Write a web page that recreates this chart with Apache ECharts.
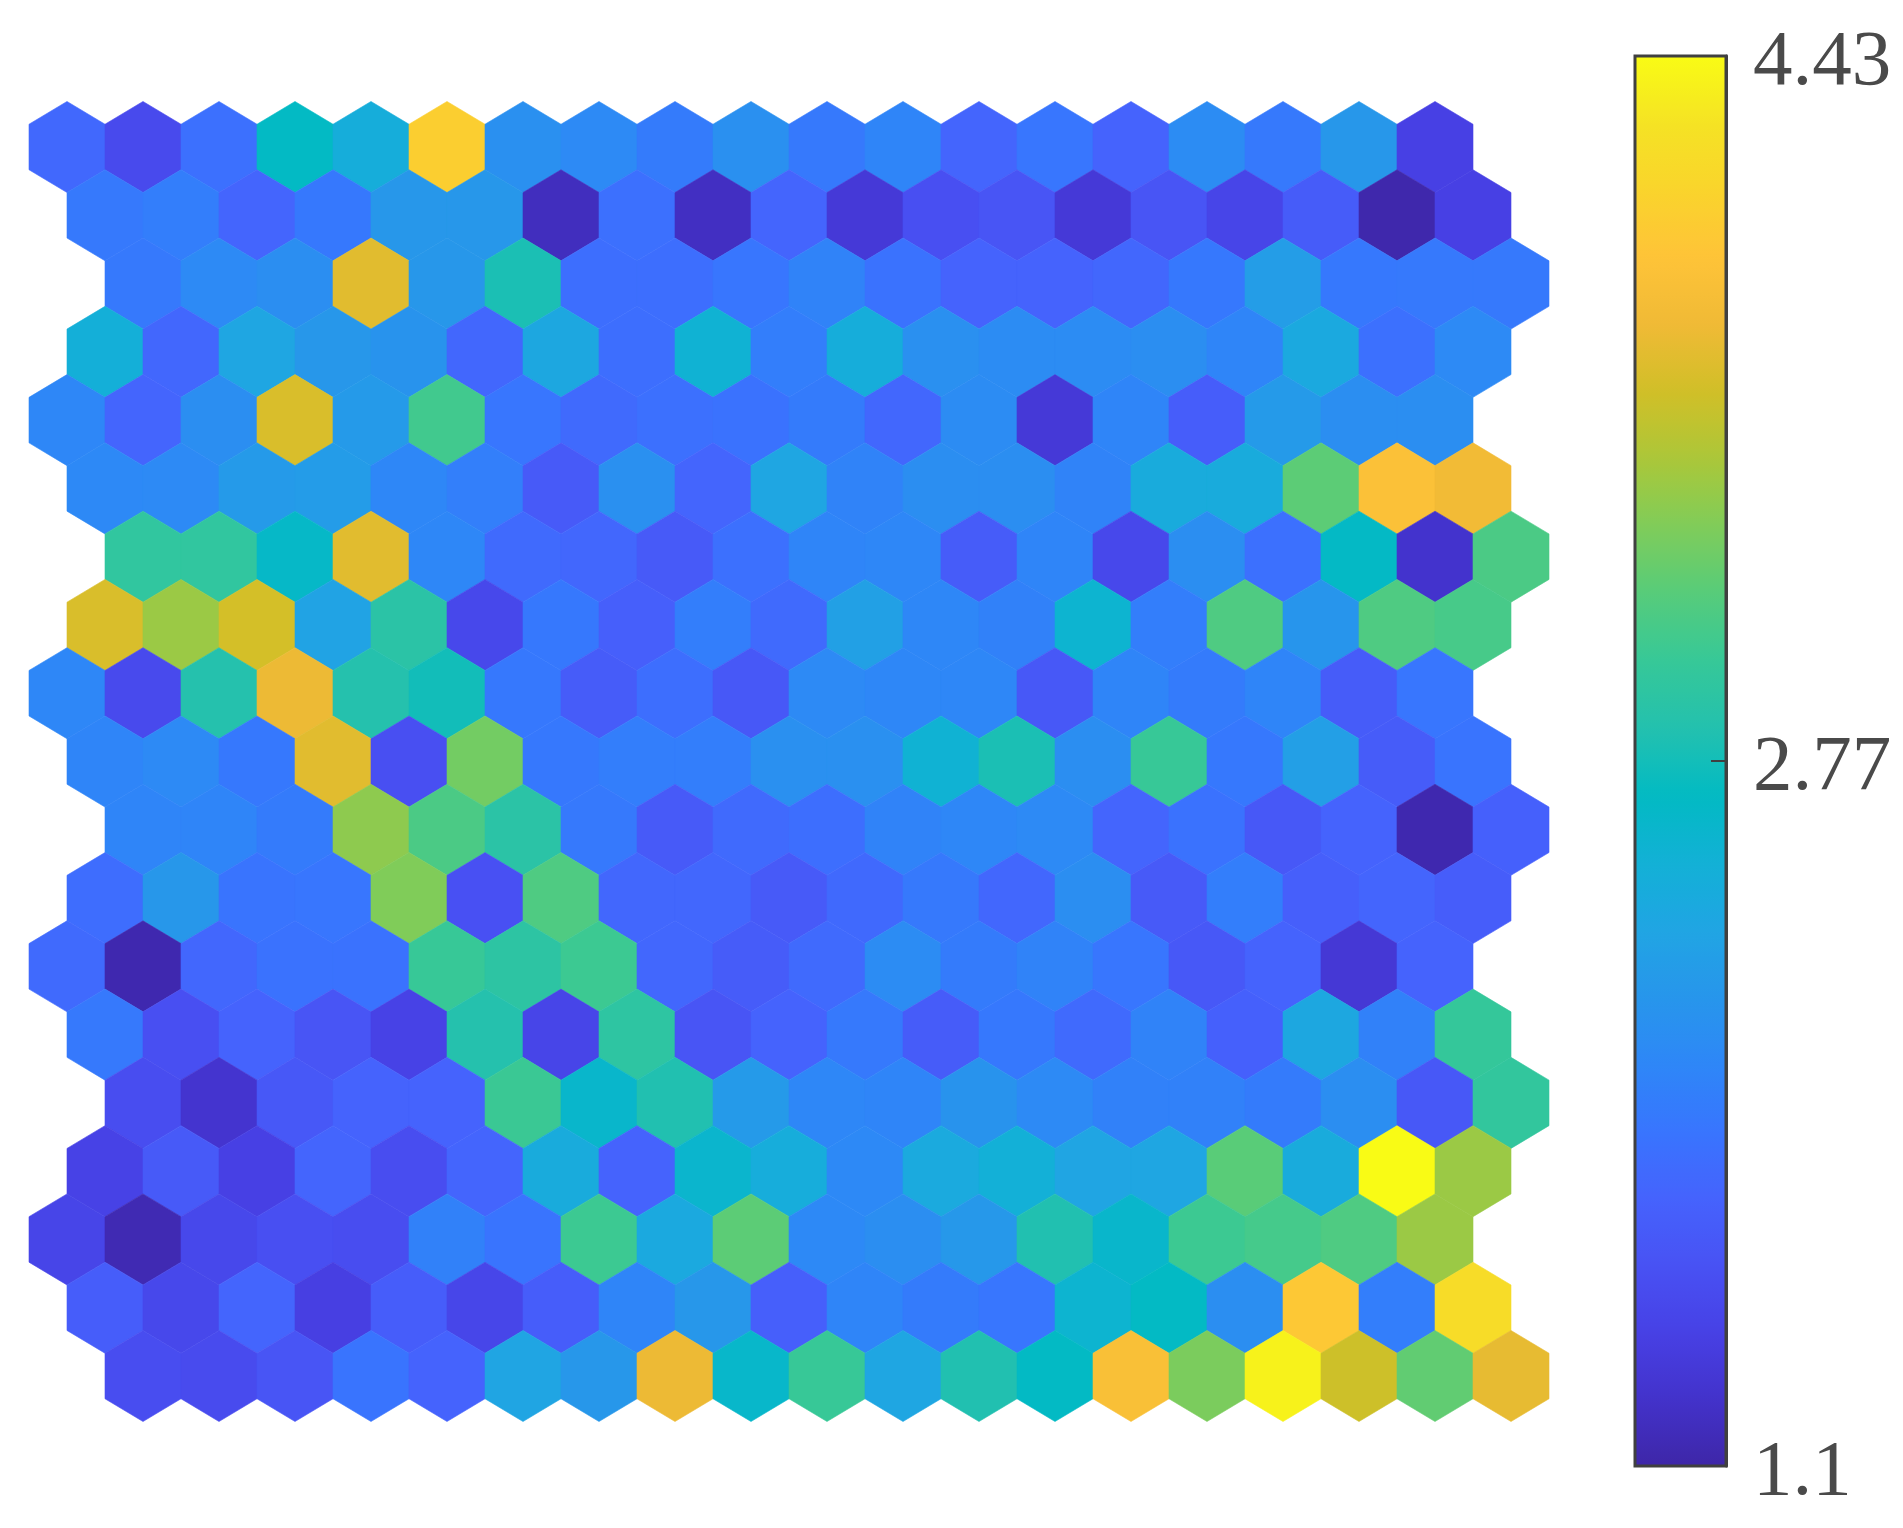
<!DOCTYPE html>
<html>
<head>
<meta charset="utf-8">
<title>Hexagonal map</title>
<script src="https://cdn.jsdelivr.net/npm/echarts@6/dist/echarts.min.js"></script>
<style>
html, body { margin: 0; padding: 0; background: #fff; }
#chart { width: 1903px; height: 1528px; }
</style>
</head>
<body>
<div id="chart"></div>
<script>
// values, top row first
var hexRows = [
  [1.78,1.50,1.85,2.68,2.48,4.06,2.15,2.08,1.95,2.15,1.93,2.03,1.75,1.90,1.73,2.10,1.93,2.22,1.41],
  [1.93,1.97,1.75,1.92,2.22,2.22,1.20,1.85,1.22,1.75,1.33,1.55,1.60,1.33,1.60,1.45,1.67,1.12,1.41],
  [1.93,2.08,2.13,3.72,2.22,2.80,1.83,1.83,1.90,2.02,1.87,1.73,1.73,1.77,1.92,2.28,1.92,1.93,1.93],
  [2.50,1.77,2.38,2.22,2.18,1.77,2.40,1.83,2.55,1.97,2.48,2.15,2.10,2.10,2.13,2.03,2.42,1.85,2.08],
  [2.05,1.75,2.13,3.68,2.25,3.05,1.90,1.80,1.85,1.87,1.95,1.77,2.10,1.33,2.03,1.68,2.25,2.13,2.13],
  [2.07,2.08,2.25,2.27,2.05,1.98,1.65,2.15,1.75,2.38,2.02,2.13,2.13,2.02,2.45,2.45,3.18,3.92,3.82],
  [2.95,2.95,2.65,3.72,2.05,1.80,1.77,1.65,1.85,2.03,2.05,1.67,2.03,1.48,2.13,1.85,2.67,1.27,3.10],
  [3.68,3.42,3.65,2.35,2.90,1.48,1.92,1.70,1.97,1.80,2.32,2.05,2.00,2.58,1.97,3.12,2.20,3.12,3.08],
  [2.05,1.50,2.85,3.78,2.85,2.76,1.92,1.67,1.83,1.63,2.08,2.05,2.05,1.63,2.03,1.95,2.03,1.67,1.90],
  [2.03,2.08,1.92,3.72,1.55,3.27,1.92,1.97,1.97,2.15,2.15,2.55,2.80,2.13,3.00,1.92,2.30,1.67,1.88],
  [2.03,2.03,1.95,3.37,3.10,2.90,1.93,1.65,1.80,1.83,2.02,2.05,2.08,1.75,1.87,1.63,1.73,1.13,1.71],
  [1.82,2.22,1.88,1.90,3.32,1.56,3.12,1.77,1.77,1.65,1.79,1.93,1.77,2.13,1.65,1.97,1.70,1.75,1.68],
  [1.80,1.13,1.77,1.87,1.87,3.00,2.92,3.03,1.77,1.67,1.80,2.10,1.95,2.02,1.90,1.63,1.73,1.32,1.73],
  [1.93,1.55,1.73,1.60,1.43,2.85,1.45,2.93,1.60,1.73,1.93,1.67,1.92,1.80,2.02,1.71,2.40,2.00,2.98],
  [1.53,1.28,1.63,1.73,1.73,3.02,2.62,2.83,2.25,2.05,2.03,2.18,2.08,2.00,2.00,1.95,2.13,1.63,2.96],
  [1.43,1.65,1.41,1.75,1.53,1.75,2.45,1.73,2.60,2.47,2.07,2.43,2.52,2.37,2.38,3.17,2.45,4.43,3.42],
  [1.45,1.15,1.48,1.55,1.53,2.00,1.88,3.03,2.42,3.18,2.07,2.13,2.23,2.83,2.62,3.03,3.07,3.12,3.42],
  [1.68,1.48,1.75,1.40,1.68,1.46,1.68,2.03,2.22,1.70,2.03,1.95,1.90,2.58,2.68,2.13,4.00,1.97,4.20],
  [1.53,1.51,1.60,1.88,1.73,2.37,2.22,3.78,2.63,3.00,2.38,2.83,2.68,3.90,3.30,4.37,3.62,3.20,3.75]
]
// rows are shifted sideways by this many columns, repeating every 4 rows
var rowShift = [0, 0.5, 1, 0.5]
// the middle tick sits halfway up the bar, its label is rounded
var colorbarTicks = [1.1, 2.765, 4.43]
var colorbarLabels = ['1.1', '2.77', '4.43']
var parula = [
  '#3E26A8','#4332CB','#4741E5','#4852F4','#4563FD','#3875FE','#2E87F7',
  '#2796EB','#20A5E3','#12B1D6','#02BAC3','#24C1AE','#37C897','#57CC7A',
  '#80CC59','#ABC739','#D1BF27','#F0BA36','#FEC338','#FAD42C','#F5E324','#F9FB15'
]

var hexData = []
hexRows.forEach(function (row, r) {
  row.forEach(function (v, c) {
    hexData.push([c + rowShift[r % 4], r, v])
  })
})

function renderHex(params, api) {
  var c = api.coord([api.value(0), api.value(1)])
  var size = api.size([1, 1])
  var hw = size[0] / 2
  var r = size[1] * 2 / 3
  var pts = [
    [c[0], c[1] - r],
    [c[0] + hw, c[1] - r / 2],
    [c[0] + hw, c[1] + r / 2],
    [c[0], c[1] + r],
    [c[0] - hw, c[1] + r / 2],
    [c[0] - hw, c[1] - r / 2]
  ]
  var color = api.visual('color')
  return {
    type: 'polygon',
    shape: { points: pts },
    style: { fill: color, stroke: color, lineWidth: 0.6 }
  }
}

var chart = echarts.init(document.getElementById('chart'), null, { renderer: 'canvas' })
chart.setOption({
  animation: false,
  backgroundColor: '#fff',
  grid: [
    { left: 67, top: 147, width: 1444, height: 1229 },
    { left: 1635, top: 56, width: 91, height: 1410 }
  ],
  xAxis: [
    { type: 'value', gridIndex: 0, min: 0, max: 19, show: false },
    { type: 'value', gridIndex: 1, min: 0, max: 1, show: false }
  ],
  yAxis: [
    { type: 'value', gridIndex: 0, min: 0, max: 18, inverse: true, show: false },
    {
      type: 'value',
      gridIndex: 1,
      min: 1.1,
      max: 4.43,
      position: 'right',
      z: 20,
      splitLine: { show: false },
      axisLine: { show: true, onZero: false, lineStyle: { color: '#404040', width: 3 } },
      axisTick: {
        inside: true,
        length: 15,
        customValues: [colorbarTicks[1]],
        lineStyle: { color: '#404040', width: 2 }
      },
      axisLabel: {
        customValues: colorbarTicks,
        formatter: function (v) {
          return '{v|' + colorbarLabels[colorbarTicks.indexOf(v)] + '}'
        },
        rich: {
          v: {
            padding: [14, 0, 0, 0],
            color: '#4a4a4a',
            fontFamily: 'Liberation Serif',
            fontSize: 79
          }
        },
        margin: 27,
        showMinLabel: true,
        showMaxLabel: true
      }
    }
  ],
  visualMap: {
    type: 'continuous',
    seriesIndex: 0,
    dimension: 2,
    min: 1.1,
    max: 4.43,
    left: 1635,
    top: 56,
    itemWidth: 91,
    itemHeight: 1410,
    padding: 0,
    z: 2,
    text: null,
    showLabel: false,
    calculable: false,
    hoverLink: false,
    realtime: false,
    inRange: { color: parula }
  },
  series: [{
    type: 'custom',
    coordinateSystem: 'cartesian2d',
    xAxisIndex: 0,
    yAxisIndex: 0,
    clip: false,
    encode: { x: 0, y: 1 },
    data: hexData,
    renderItem: renderHex
  }],
  graphic: [{
    type: 'rect',
    z: 100,
    shape: { x: 1635, y: 56, width: 91, height: 1410 },
    style: { fill: 'none', stroke: '#404040', lineWidth: 3 }
  }]
})
</script>
</body>
</html>
